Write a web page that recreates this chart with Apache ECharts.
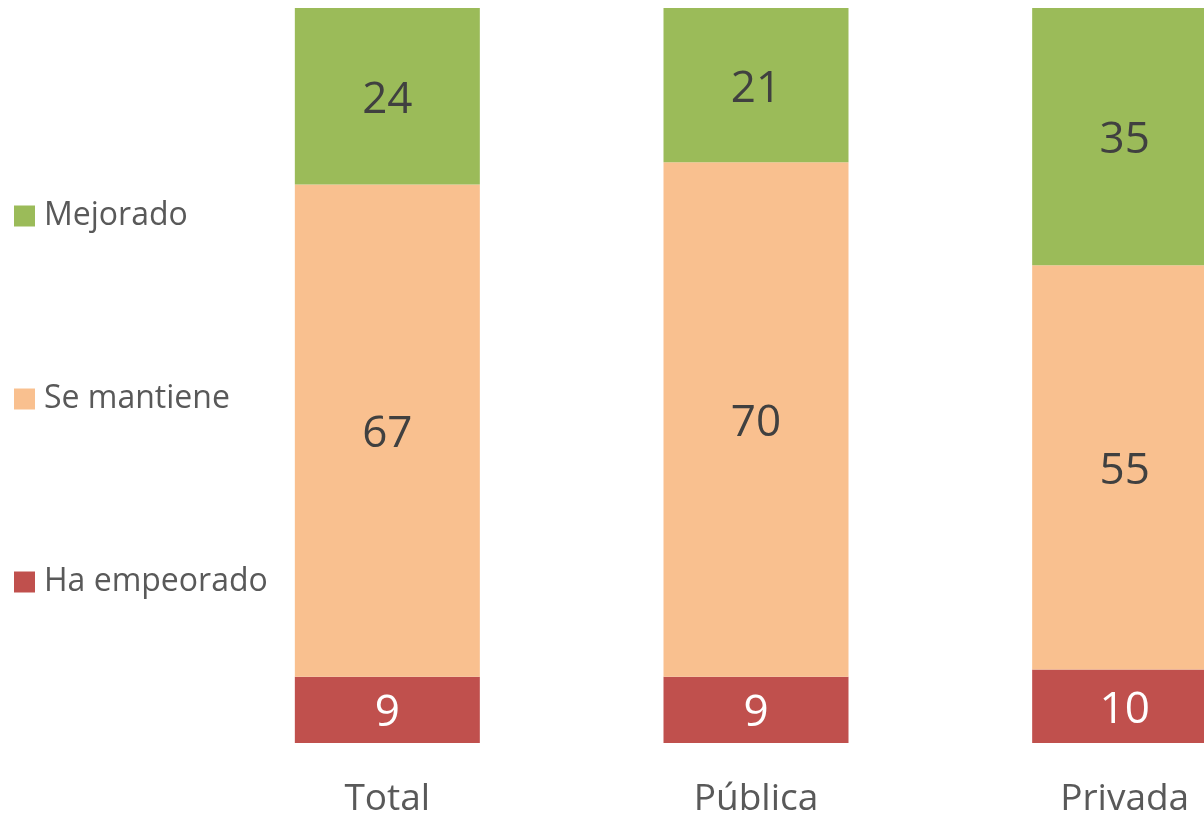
<!DOCTYPE html>
<html>
<head>
<meta charset="utf-8">
<script src="https://cdn.jsdelivr.net/npm/echarts@6/dist/echarts.min.js"></script>
<style>
  html, body { margin: 0; padding: 0; background: #fff; }
  #main { width: 1204px; height: 816px; }
</style>
</head>
<body>
<div id="main"></div>
<script>
// datos (%)
var categorias = ["Total", "Pública", "Privada"];
var haEmpeorado = [9, 9, 10];
var seMantiene = [67, 70, 55];
var mejorado = [24, 21, 35];

var chart = echarts.init(document.getElementById("main"));

var fuente = "'Open Sans', 'Noto Sans', sans-serif";

function serie(nombre, datos, color, colorTexto) {
  return {
    name: nombre,
    type: "bar",
    stack: "total",
    barWidth: 185,
    data: datos,
    itemStyle: { color: color },
    label: {
      show: true,
      position: "inside",
      offset: [0, 4],
      color: colorTexto,
      fontSize: 44,
      fontFamily: fuente
    }
  };
}

var option = {
  animation: false,
  backgroundColor: "#ffffff",
  legend: {
    orient: "vertical",
    left: 14,
    top: 200,
    padding: 0,
    itemWidth: 21,
    itemHeight: 21,
    itemGap: 151,
    icon: "rect",
    data: ["Mejorado", "Se mantiene", "Ha empeorado"],
    textStyle: {
      color: "#595959",
      fontSize: 32,
      fontFamily: fuente,
      padding: [0, 0, 0, 4]
    }
  },
  grid: {
    left: 203,
    right: -105,
    top: 8,
    bottom: 73,
    containLabel: false,
    outerBoundsMode: "none"
  },
  xAxis: {
    type: "category",
    data: categorias,
    axisLine: { show: false },
    axisTick: { show: false },
    axisLabel: {
      color: "#595959",
      fontSize: 37,
      fontFamily: fuente,
      margin: 38
    }
  },
  yAxis: {
    type: "value",
    min: 0,
    max: 100,
    show: false,
    splitLine: { show: false }
  },
  series: [
    serie("Ha empeorado", haEmpeorado, "#C0504D", "#ffffff"),
    serie("Se mantiene", seMantiene, "#F9C08F", "#404040"),
    serie("Mejorado", mejorado, "#9BBB59", "#404040")
  ]
};

chart.setOption(option);
</script>
</body>
</html>
